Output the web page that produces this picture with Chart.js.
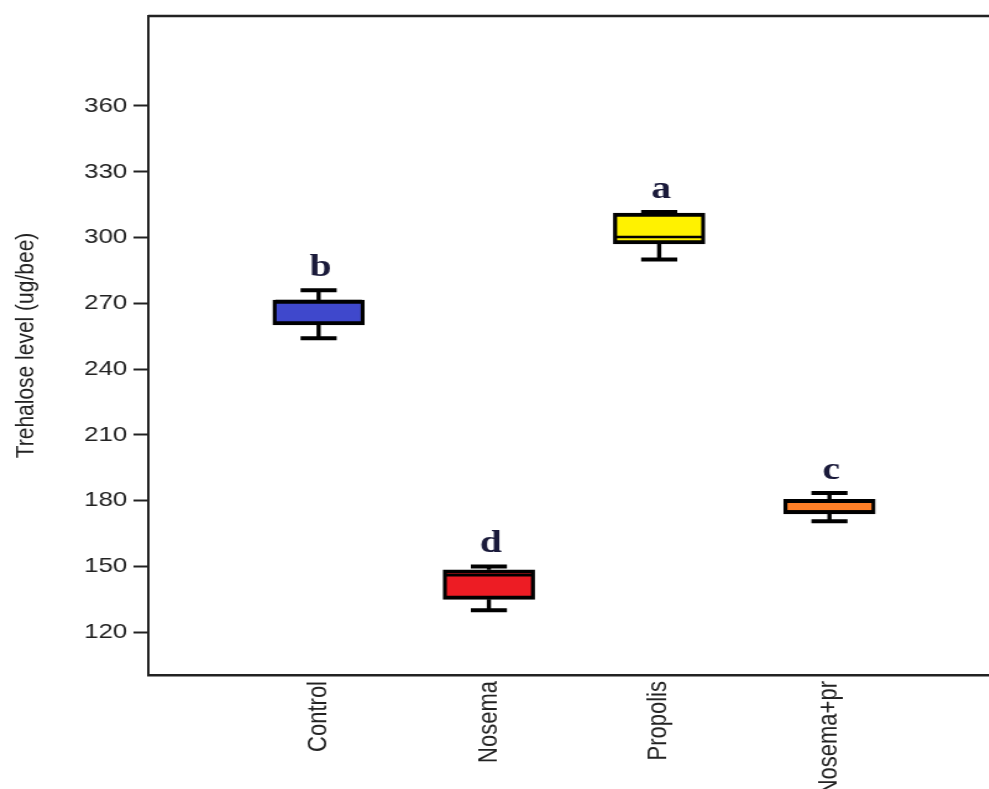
<!DOCTYPE html>
<html>
<head>
<meta charset="utf-8">
<script src="https://cdn.jsdelivr.net/npm/chart.js@4"></script>
<style>
  html, body { margin: 0; padding: 0; background: #fff; overflow: hidden; width: 989px; height: 789px; }
  #wrap { width: 809px; height: 789px; transform: scaleX(1.2358); transform-origin: 0 0; }
</style>
</head>
<body>
<div id="wrap"><canvas id="c"></canvas></div>
<script>
// ---- data ----
const categories = ['Control', 'Nosema', 'Propolis', 'Nosema+pr'];
const q1Values = [260.1, 135.0, 297.1, 173.9];
const q3Values = [271.5, 148.5, 311.1, 180.6];
const medianValues = [271.0, 146.0, 300.2, 175.0];
const minValues = [254.0, 130.0, 290.0, 170.6];
const maxValues = [276.0, 150.0, 311.6, 183.5];
const groupLetters = ['b', 'd', 'a', 'c'];
const boxColors = ['#3f48cc', '#ed1c24', '#fff200', '#ff7f27'];
const yTickValues = [120, 150, 180, 210, 240, 270, 300, 330, 360];
const yAxisTitle = 'Trehalose level (ug/bee)';

// ---- chart ----
const labels = [''].concat(categories, ['']);
const boxData = [null].concat(q1Values.map((v, i) => [v, q3Values[i]]), [null]);
const fillColors = ['#fff'].concat(boxColors, ['#fff']);

const boxPlugin = {
  id: 'boxExtras',
  beforeDatasetsDraw(chart) {
    const ctx = chart.ctx, xs = chart.scales.x, ys = chart.scales.y;
    ctx.save();
    ctx.strokeStyle = '#000';
    ctx.lineCap = 'butt';
    categories.forEach((c, i) => {
      const cx = xs.getPixelForValue(i + 1);
      const yMin = ys.getPixelForValue(minValues[i]);
      const yMax = ys.getPixelForValue(maxValues[i]);
      const yQ1 = ys.getPixelForValue(q1Values[i]);
      const yQ3 = ys.getPixelForValue(q3Values[i]);
      ctx.lineWidth = 3.4;
      ctx.beginPath();
      ctx.moveTo(cx, yQ3); ctx.lineTo(cx, yMax);
      ctx.moveTo(cx, yQ1); ctx.lineTo(cx, yMin);
      ctx.stroke();
      ctx.lineWidth = 4;
      ctx.beginPath();
      ctx.moveTo(cx - 14.6, yMax); ctx.lineTo(cx + 14.6, yMax);
      ctx.moveTo(cx - 14.6, yMin); ctx.lineTo(cx + 14.6, yMin);
      ctx.stroke();
    });
    ctx.restore();
  },
  afterDatasetsDraw(chart) {
    const ctx = chart.ctx, xs = chart.scales.x, ys = chart.scales.y, a = chart.chartArea;
    ctx.save();
    // medians
    ctx.strokeStyle = '#000';
    ctx.lineWidth = 2.5;
    categories.forEach((c, i) => {
      const cx = xs.getPixelForValue(i + 1);
      const ym = ys.getPixelForValue(medianValues[i]);
      ctx.beginPath();
      ctx.moveTo(cx - 35, ym); ctx.lineTo(cx + 35, ym);
      ctx.stroke();
    });
    // letters
    ctx.fillStyle = '#1a1a3a';
    ctx.font = 'bold 32px "Liberation Serif", "DejaVu Serif", serif';
    ctx.textAlign = 'center';
    ctx.textBaseline = 'alphabetic';
    categories.forEach((c, i) => {
      const cx = xs.getPixelForValue(i + 1);
      const yMax = ys.getPixelForValue(maxValues[i]);
      ctx.fillText(groupLetters[i], cx + 1.5, yMax - 14);
    });
    // top and right frame
    ctx.strokeStyle = '#222';
    ctx.lineWidth = 2.5;
    ctx.beginPath();
    ctx.moveTo(a.left, a.top); ctx.lineTo(a.right, a.top); ctx.lineTo(a.right, a.bottom);
    ctx.stroke();
    ctx.restore();
  }
};

new Chart(document.getElementById('c'), {
  type: 'bar',
  data: {
    labels: labels,
    datasets: [{
      data: boxData,
      backgroundColor: fillColors,
      borderColor: '#000',
      borderWidth: { top: 4, bottom: 4, left: 3.3, right: 3.3 },
      borderSkipped: false,
      barThickness: 74
    }]
  },
  options: {
    responsive: true,
    maintainAspectRatio: false,
    animation: false,
    layout: { padding: { top: 16, left: 0, right: 0, bottom: 0 } },
    plugins: { legend: { display: false }, tooltip: { enabled: false } },
    scales: {
      x: {
        type: 'category',
        offset: false,
        grid: { display: false, drawTicks: false },
        border: { display: true, color: '#222', width: 2.5 },
        ticks: {
          autoSkip: false,
          maxRotation: 90,
          minRotation: 90,
          padding: 6,
          color: '#222',
          font: { family: '"Liberation Sans", Arial, sans-serif', size: 22 }
        },
        afterFit(scale) {
          scale.height = 114;
          scale.paddingLeft = 0;
          scale.paddingRight = 0;
        }
      },
      y: {
        min: 100.5,
        max: 401,
        afterBuildTicks(scale) {
          scale.ticks = yTickValues.map(v => ({ value: v }));
        },
        grid: { display: true, drawOnChartArea: false, drawTicks: true, tickLength: 12, tickColor: '#222', tickWidth: 2 },
        border: { display: true, color: '#222', width: 2 },
        ticks: {
          padding: 5,
          color: '#222',
          font: { family: '"Liberation Sans", Arial, sans-serif', size: 21 }
        },
        title: {
          display: true,
          text: yAxisTitle,
          color: '#222',
          padding: { top: 9, bottom: 0 },
          font: { family: '"Liberation Sans", Arial, sans-serif', size: 21 }
        },
        afterFit(scale) {
          scale.width = 120;
          scale.paddingTop = 0;
          scale.paddingBottom = 0;
        }
      }
    }
  },
  plugins: [boxPlugin]
});
</script>
</body>
</html>
